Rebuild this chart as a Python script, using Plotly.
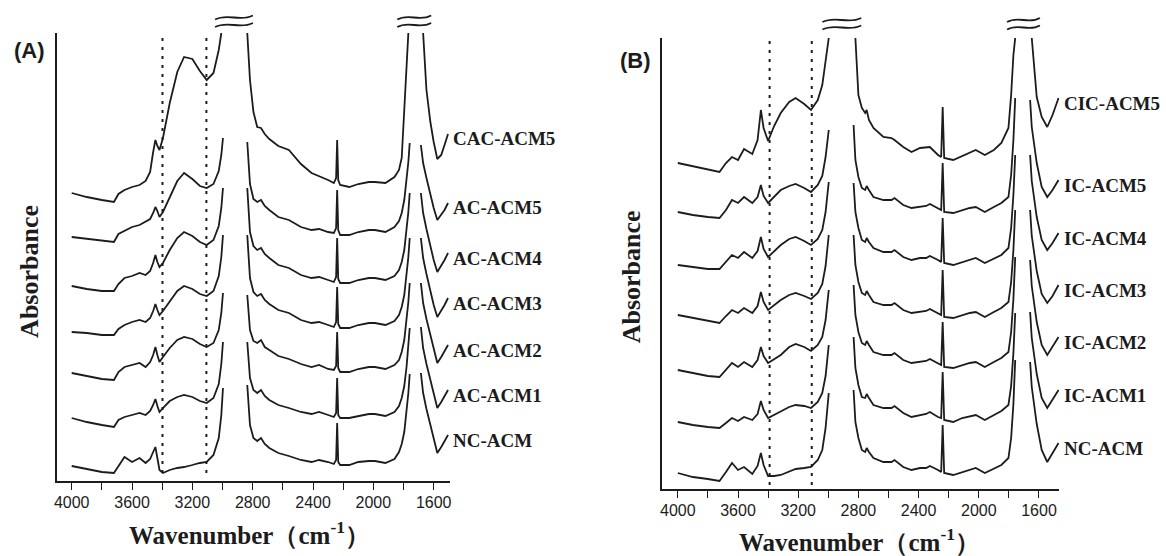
import plotly.graph_objects as go

# ---------------- data ----------------
# Panel A: wavenumber grid (cm-1); None marks the axis break
WN_A = [4000, 3900, 3800, 3720, 3690, 3650, 3600, 3550, 3510, 3480,
        3460, 3445, 3432, 3418, 3395, 3350, 3300, 3255, 3200, 3150,
        3105, 3060, 3025, 3008, 2997, 2920, 2836, 2818, 2795, 2770,
        2745, 2720, 2690, 2630, 2560, 2480, 2410, 2360, 2300, 2262,
        2247, 2240, 2233, 2220, 2160, 2100, 2030, 1990, 1920, 1860,
        1830, 1812, 1795, 1780, 1768, 1759, 1722, 1685, 1670, 1648,
        1622, 1600, 1576, 1550, 1528, 1505]

CAC_ACM5 = [288, 284, 281, 279, 287, 291, 294, 296, 300, 309,
            329, 341, 335, 331, 343, 378, 409, 424, 422, 410,
            401, 408, 431, 448, None, None, 448, 401, 369, 354,
            353, 347, 342, 335, 331, 317, 308, 305, 301, 298,
            303, 341, 301, 296, 294, 297, 299, 299, 298, 304,
            311, 323, 369, 406, 448, None, None, None, 448, 391,
            359, 339, 322, 326, 336, 347]
AC_ACM5 = [244, 242, 240, 239, 247, 250, 254, 256, 259, 262,
           268, 274, 270, 264, 269, 283, 300, 308, 302, 295,
           293, 297, 310, 326, 343, None, 339, 297, 282, 279,
           281, 275, 271, 264, 261, 254, 251, 252, 249, 248,
           253, 291, 251, 246, 246, 249, 251, 251, 249, 254,
           260, 268, 281, 299, 319, 338, None, 336, 318, 303,
           286, 273, 261, 266, 271, 278]
AC_ACM4 = [195, 192, 190, 190, 197, 203, 205, 208, 206, 210,
           218, 226, 219, 214, 218, 231, 243, 249, 245, 239,
           236, 241, 255, 273, 293, None, 293, 249, 235, 231,
           233, 227, 223, 216, 213, 206, 203, 204, 201, 199,
           204, 243, 202, 198, 198, 201, 203, 203, 201, 205,
           211, 219, 231, 249, 269, 288, None, 288, 268, 252,
           235, 221, 209, 215, 221, 228]
AC_ACM3 = [149, 148, 146, 146, 152, 156, 159, 161, 159, 163,
           170, 177, 171, 166, 170, 180, 190, 195, 192, 187,
           185, 190, 205, 224, 246, None, 246, 203, 189, 185,
           187, 181, 177, 171, 168, 161, 158, 159, 156, 154,
           159, 194, 157, 153, 153, 156, 158, 158, 156, 160,
           166, 174, 186, 204, 224, 243, None, 243, 223, 207,
           190, 176, 164, 170, 176, 183]
AC_ACM2 = [108, 105, 102, 101, 109, 114, 116, 118, 114, 119,
           126, 134, 126, 119, 124, 133, 141, 144, 142, 137,
           134, 138, 151, 168, 188, None, 186, 151, 140, 138,
           141, 134, 131, 125, 122, 117, 114, 116, 112, 111,
           115, 149, 113, 109, 109, 112, 114, 114, 112, 116,
           121, 129, 141, 159, 179, 198, None, 198, 178, 162,
           145, 131, 118, 124, 130, 136]
AC_ACM1 = [63, 59, 56, 54, 61, 64, 66, 68, 66, 70,
           76, 82, 75, 69, 73, 80, 84, 86, 84, 80,
           78, 83, 97, 117, 139, None, 139, 103, 91, 88,
           91, 85, 81, 76, 73, 69, 67, 69, 66, 64,
           68, 103, 66, 63, 63, 65, 67, 67, 65, 69,
           75, 83, 95, 114, 134, 153, None, 154, 133, 117,
           100, 86, 73, 79, 85, 91]
NC_ACM_A = [15, 12, 9, 8, 15, 24, 19, 23, 18, 22,
            29, 34, 23, 11, 8, 11, 13, 14, 16, 18,
            19, 26, 43, 66, 93, None, 96, 56, 43, 40,
            43, 37, 33, 28, 25, 21, 19, 21, 19, 17,
            21, 58, 19, 16, 16, 19, 20, 20, 18, 22,
            29, 37, 49, 68, 88, 107, None, 108, 88, 72,
            55, 41, 28, 34, 40, 46]

# Panel B
WN_B = [4000, 3900, 3800, 3723, 3680, 3640, 3600, 3560, 3505, 3470,
        3448, 3430, 3400, 3360, 3316, 3260, 3217, 3160, 3115, 3070,
        3040, 3018, 2997, 2915, 2832, 2820, 2800, 2777, 2755, 2745,
        2730, 2700, 2634, 2580, 2560, 2502, 2447, 2391, 2350, 2325,
        2271, 2250, 2240, 2230, 2170, 2110, 2060, 2020, 1960, 1900,
        1850, 1803, 1785, 1770, 1758, 1705, 1659, 1648, 1615, 1582,
        1545, 1510, 1470]

CIC_ACM5 = [326, 323, 320, 317, 326, 332, 329, 340, 335, 349,
            379, 361, 348, 363, 376, 387, 391, 385, 379, 389,
            404, 426, 451, None, None, 451, 394, 381, 376, 379,
            369, 361, 352, 351, 349, 342, 337, 341, 342, 342,
            334, 332, 382, 331, 329, 333, 337, 339, 334, 339,
            346, 361, 394, 434, 451, None, None, 451, 392, 372,
            362, 374, 391]
IC_ACM5 = [277, 274, 272, 271, 279, 289, 286, 292, 286, 292,
           304, 293, 286, 292, 299, 303, 305, 301, 297, 304,
           313, 332, 359, None, 364, 329, 312, 301, 299, 303,
           299, 292, 289, 289, 291, 284, 281, 282, 283, 285,
           281, 279, 326, 277, 276, 279, 281, 282, 277, 282,
           286, 292, 314, 349, 391, None, 389, 362, 326, 302,
           292, 299, 309]
IC_ACM4 = [224, 222, 220, 220, 227, 234, 231, 237, 231, 238,
           252, 240, 232, 238, 244, 250, 252, 248, 244, 250,
           259, 277, 307, None, 306, 277, 261, 249, 247, 251,
           247, 241, 237, 237, 239, 232, 229, 231, 231, 233,
           229, 227, 271, 226, 224, 227, 229, 231, 226, 230,
           234, 241, 261, 294, 334, None, 334, 308, 272, 249,
           239, 246, 256]
IC_ACM3 = [174, 171, 168, 166, 173, 179, 176, 181, 176, 183,
           197, 187, 179, 184, 189, 194, 196, 193, 190, 196,
           205, 223, 254, None, 254, 224, 207, 196, 194, 198,
           194, 187, 184, 184, 186, 179, 176, 177, 178, 180,
           176, 174, 219, 172, 171, 174, 176, 177, 172, 177,
           181, 187, 207, 239, 279, None, 279, 253, 218, 195,
           186, 193, 204]
IC_ACM2 = [119, 116, 113, 112, 119, 126, 122, 127, 122, 129,
           142, 133, 126, 130, 134, 142, 145, 142, 138, 144,
           152, 169, 199, None, 204, 174, 157, 146, 144, 148,
           144, 137, 134, 134, 136, 129, 126, 127, 128, 130,
           126, 124, 167, 122, 121, 124, 126, 127, 122, 127,
           131, 137, 157, 190, 232, None, 229, 203, 167, 144,
           134, 142, 152]
IC_ACM1 = [67, 64, 62, 61, 66, 71, 68, 72, 69, 75,
           88, 79, 71, 74, 77, 82, 84, 83, 81, 87,
           96, 113, 144, None, 152, 121, 104, 92, 91, 95,
           91, 84, 81, 81, 83, 76, 72, 74, 75, 77,
           72, 71, 117, 69, 67, 71, 73, 74, 69, 74,
           78, 84, 103, 136, 176, None, 177, 151, 115, 91,
           81, 89, 99]
NC_ACM_B = [16, 12, 10, 8, 17, 26, 19, 22, 15, 23,
            36, 24, 13, 13, 14, 17, 20, 21, 22, 29,
            39, 61, 96, None, 99, 67, 51, 39, 37, 41,
            37, 31, 27, 27, 29, 22, 19, 21, 21, 23,
            19, 17, 64, 16, 14, 17, 19, 21, 16, 20,
            24, 31, 51, 85, 129, None, 127, 102, 65, 39,
            27, 36, 46]

LABELS_A = ["CAC-ACM5", "AC-ACM5", "AC-ACM4", "AC-ACM3", "AC-ACM2", "AC-ACM1", "NC-ACM"]
LABELS_B = ["CIC-ACM5", "IC-ACM5", "IC-ACM4", "IC-ACM3", "IC-ACM2", "IC-ACM1", "NC-ACM"]
SERIES_A = [CAC_ACM5, AC_ACM5, AC_ACM4, AC_ACM3, AC_ACM2, AC_ACM1, NC_ACM_A]
SERIES_B = [CIC_ACM5, IC_ACM5, IC_ACM4, IC_ACM3, IC_ACM2, IC_ACM1, NC_ACM_B]

DOTTED_A = [3398, 3107]
DOTTED_B = [3390, 3110]
BREAKS_A = [2924, 1729]
BREAKS_B = [2910, 1703]

TICKS = [4000, 3600, 3200, 2800, 2400, 2000, 1600]
TICK_TEXT = ["4000", "3600", "3200", "2800", "2400", "2000", "1600"]

# ---------------- layout helpers ----------------
W, H = 1166, 556
INK = "#1c1c1c"
SERIF = "Liberation Serif, Times New Roman, serif"
SANS = "Liberation Sans, Arial, sans-serif"

PANEL = {
    "A": dict(px=(54, 448.6), py=(33, 481), xr=[4099, 1494], yr=[0, 448]),
    "B": dict(px=(662, 1060.7), py=(38, 489), xr=[4104, 1466], yr=[0, 451]),
}


def dx(a, b):
    return [a / W, b / W]


def dy(top, bottom):
    return [1 - bottom / H, 1 - top / H]


fig = go.Figure()

for names, series, wn, xa, ya in [(LABELS_A, SERIES_A, WN_A, "x", "y"),
                                  (LABELS_B, SERIES_B, WN_B, "x2", "y2")]:
    for nm, vals in zip(names, series):
        fig.add_trace(go.Scatter(x=wn, y=vals, mode="lines", name=nm,
                                 line=dict(color=INK, width=1.8),
                                 xaxis=xa, yaxis=ya, showlegend=False,
                                 hoverinfo="skip"))

annotations = []
shapes = []

for names, series, wn, xa, ya in [(LABELS_A, SERIES_A, WN_A, "x", "y"),
                                  (LABELS_B, SERIES_B, WN_B, "x2", "y2")]:
    for nm, vals in zip(names, series):
        annotations.append(dict(x=wn[-1], y=vals[-1], xref=xa, yref=ya,
                                text="<b>%s</b>" % nm, showarrow=False,
                                xanchor="left", yanchor="middle",
                                xshift=3, yshift=-5,
                                font=dict(family=SERIF, size=19, color=INK)))

for d in DOTTED_A:
    shapes.append(dict(type="line", xref="x", yref="y", x0=d, x1=d, y0=8, y1=446,
                       line=dict(color=INK, width=2, dash="3px,6px")))
for d in DOTTED_B:
    shapes.append(dict(type="line", xref="x2", yref="y2", x0=d, x1=d, y0=4, y1=451,
                       line=dict(color=INK, width=2, dash="3px,6px")))


def wn_to_px(wn, panel):
    p = PANEL[panel]
    x0, x1 = p["px"]
    r0, r1 = p["xr"]
    return x0 + (r0 - wn) / (r0 - r1) * (x1 - x0)


def tilde_path(cx, cy, w, a):
    x0 = cx - w / 2
    pts = [(x0, cy + a), (x0 + 0.35 * w, cy - 2.4 * a),
           (x0 + 0.65 * w, cy + 2.4 * a), (x0 + w, cy - a)]
    P = [(x / W, 1 - y / H) for x, y in pts]
    return "M %.5f,%.5f C %.5f,%.5f %.5f,%.5f %.5f,%.5f" % (
        P[0][0], P[0][1], P[1][0], P[1][1], P[2][0], P[2][1], P[3][0], P[3][1])


for panel, brks, ys, widths in [("A", BREAKS_A, (17.5, 25), (38, 34)),
                                ("B", BREAKS_B, (20, 27.5), (39, 33))]:
    for b, w in zip(brks, widths):
        cx = wn_to_px(b, panel)
        for cy in ys:
            shapes.append(dict(type="path", xref="paper", yref="paper",
                               path=tilde_path(cx, cy, w, 2.0),
                               line=dict(color=INK, width=1.8)))


def paper_text(px, py, text, family, size, angle=0):
    return dict(x=px / W, y=1 - py / H, xref="paper", yref="paper", text=text,
                xanchor="center", yanchor="middle", textangle=angle,
                showarrow=False, font=dict(family=family, size=size, color=INK))


# panel letters, axis titles
annotations += [
    paper_text(27, 50, "<b>(A)</b>", SANS, 22),
    paper_text(635, 60, "<b>(B)</b>", SANS, 22),
    paper_text(248, 533, "<b>Wavenumber（cm<sup>-1</sup>）</b>", SERIF, 25),
    paper_text(860, 540, "<b>Wavenumber（cm<sup>-1</sup>）</b>", SERIF, 25),
    paper_text(26, 271, "<b>Absorbance</b>", SERIF, 26, -90),
    paper_text(631, 277, "<b>Absorbance</b>", SERIF, 26, -90),
]


def xaxis_cfg(panel, anchor):
    p = PANEL[panel]
    return dict(domain=dx(*p["px"]), range=p["xr"], anchor=anchor,
                showline=True, linecolor=INK, linewidth=1.7,
                ticks="outside", ticklen=7, tickwidth=1.4, tickcolor=INK,
                tickmode="array", tickvals=TICKS, ticktext=TICK_TEXT,
                tickfont=dict(family=SANS, size=16, color=INK),
                ticklabelstandoff=-1,
                minor=dict(tickmode="linear", tick0=0, dtick=200, ticks="outside",
                           ticklen=7, tickwidth=1.4, tickcolor=INK, showgrid=False),
                showgrid=False, zeroline=False, fixedrange=True)


def yaxis_cfg(panel, anchor):
    p = PANEL[panel]
    return dict(domain=dy(*p["py"]), range=p["yr"], anchor=anchor,
                showline=True, linecolor=INK, linewidth=1.5,
                ticks="", showticklabels=False, showgrid=False, zeroline=False,
                fixedrange=True)


fig.update_layout(
    width=W, height=H, margin=dict(l=0, r=0, t=0, b=0),
    paper_bgcolor="white", plot_bgcolor="white",
    xaxis=xaxis_cfg("A", "y"), yaxis=yaxis_cfg("A", "x"),
    xaxis2=xaxis_cfg("B", "y2"), yaxis2=yaxis_cfg("B", "x2"),
    annotations=annotations, shapes=shapes, showlegend=False,
)

fig.write_html("out.html", config={"displayModeBar": False},
               post_script="document.body.style.margin='0';"
                           "document.body.style.overflow='hidden';")
